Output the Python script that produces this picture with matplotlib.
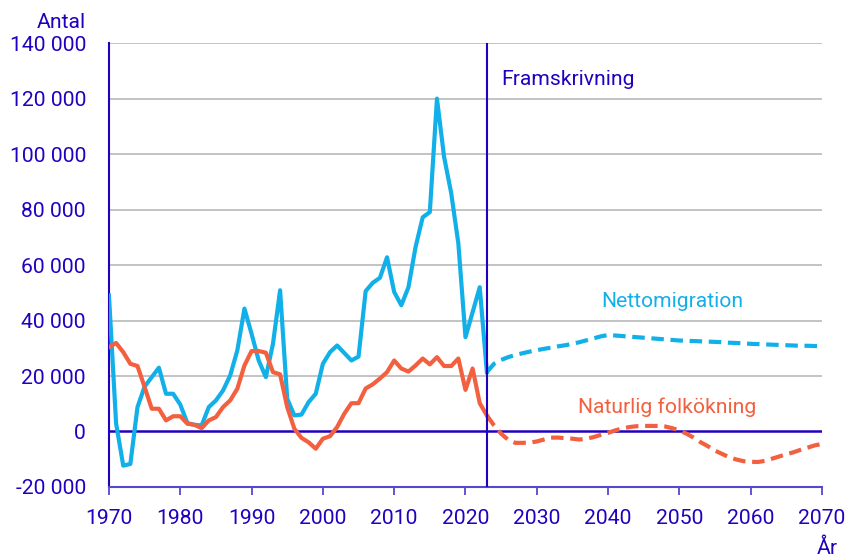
import numpy as np
import matplotlib
matplotlib.use("Agg")
import matplotlib.pyplot as plt
from matplotlib.ticker import FuncFormatter

plt.rcParams["font.family"] = ["Roboto", "DejaVu Sans"]

# historical values 1970-2023
hist_years = list(range(1970, 2024))
hist_net = [49000, 2900, -12300, -11700, 8800, 16200, 19600, 23000, 13600, 13600,
            9700, 3000, 2400, 2200, 8800, 11200, 14800, 20200, 29200, 44300,
            35200, 25600, 19600, 31600, 50900, 11800, 5800, 6100, 10600, 13600,
            24400, 28600, 31000, 28300, 25600, 27000, 50600, 53600, 55400, 62800,
            50300, 45500, 52000, 66500, 77200, 79100, 120000, 99000, 85900, 67800,
            34000, 43000, 52000, 21400]
hist_nat = [30400, 31900, 28600, 24400, 23600, 16000, 8200, 8200, 4000, 5500,
            5500, 2800, 2400, 1200, 4000, 5200, 8800, 11200, 15400, 23800,
            29000, 29000, 28400, 21400, 20600, 8800, 1000, -2300, -3900, -6200,
            -2600, -1700, 1600, 6400, 10200, 10200, 15500, 17000, 19100, 21400,
            25600, 22700, 21600, 23800, 26300, 24200, 26800, 23600, 23600, 26300,
            15000, 22700, 10200, 5800]

# projection 2023-2070
proj_years = list(range(2023, 2071))
proj_net = [21400, 24400, 25800, 26800, 27600, 28200, 28800, 29300, 29800, 30200,
            30700, 31100, 31600, 32200, 32900, 33600, 34300, 34800, 34600, 34400,
            34200, 34000, 33800, 33600, 33400, 33200, 33000, 32800, 32700, 32600,
            32500, 32400, 32300, 32200, 32000, 31900, 31800, 31600, 31500, 31400,
            31300, 31200, 31100, 31000, 30900, 30900, 30800, 30800]
proj_nat = [5800, 2200, -800, -3000, -4100, -4100, -4000, -3600, -2900, -2200,
            -2200, -2400, -2600, -2900, -2600, -2000, -1200, -500, 400, 1100,
            1600, 1900, 2000, 2000, 2000, 1800, 1200, 400, -800, -2200,
            -3900, -5300, -6900, -8100, -9300, -10100, -10700, -10900, -11000, -10600,
            -9800, -9000, -8200, -7500, -6600, -5800, -5000, -4500]

NAVY = "#2200c0"
AXIS2 = "#5548d0"
BLUE = "#12b0e8"
RED = "#f2603f"
GRID = "#b9b9b9"
FS = 15.2

fig = plt.figure(figsize=(8.54, 5.6), dpi=100)
ax = fig.add_axes([0.1276, 0.1304, 0.8349, 0.7926])

ax.plot(hist_years, hist_net, color=BLUE, lw=3, solid_joinstyle="round", zorder=4)
ax.plot(hist_years, hist_nat, color=RED, lw=3, solid_joinstyle="round", zorder=4)
ax.plot(proj_years, proj_net, color=BLUE, lw=3, ls=(0, (3, 1.6)), zorder=4)
ax.plot(proj_years, proj_nat, color=RED, lw=3, ls=(0, (3, 1.6)), zorder=4)

ax.set_xlim(1970, 2070)
ax.set_ylim(-20000, 140000)
ax.set_yticks(np.arange(-20000, 140001, 20000))
ax.set_xticks(np.arange(1970, 2071, 10))
ax.yaxis.set_major_formatter(FuncFormatter(lambda v, p: f"{int(v):,}".replace(",", " ")))

for v in range(20000, 140001, 20000):
    ax.axhline(v, color=GRID, lw=1.2, zorder=1)
ax.axhline(0, color=NAVY, lw=1.8, zorder=3)
ax.axvline(2023, color=NAVY, lw=1.5, zorder=5)

for s in ["top", "right"]:
    ax.spines[s].set_visible(False)
ax.spines["left"].set_color(NAVY)
ax.spines["left"].set_linewidth(1.5)
ax.spines["bottom"].set_color(AXIS2)
ax.spines["bottom"].set_linewidth(1.5)

ax.tick_params(axis="y", length=0, pad=16.5, labelsize=FS, labelcolor=NAVY)
ax.tick_params(axis="x", length=6, width=1.3, color=AXIS2, pad=10,
               labelsize=FS, labelcolor=NAVY)

ax.text(2025.0, 127000, "Framskrivning", color=NAVY, fontsize=FS, va="center")
ax.text(2049, 47000, "Nettomigration", color=BLUE, fontsize=FS, va="center", ha="center")
ax.text(2048.3, 8800, "Naturlig folkökning", color=RED, fontsize=FS, va="center", ha="center")

fig.text(86 / 854, 1 - 22 / 560, "Antal", color=NAVY, fontsize=FS, ha="right", va="center")
fig.text(838 / 854, 1 - 548 / 560, "År", color=NAVY, fontsize=FS, ha="right", va="center")

fig.savefig("out.png", dpi=100)
